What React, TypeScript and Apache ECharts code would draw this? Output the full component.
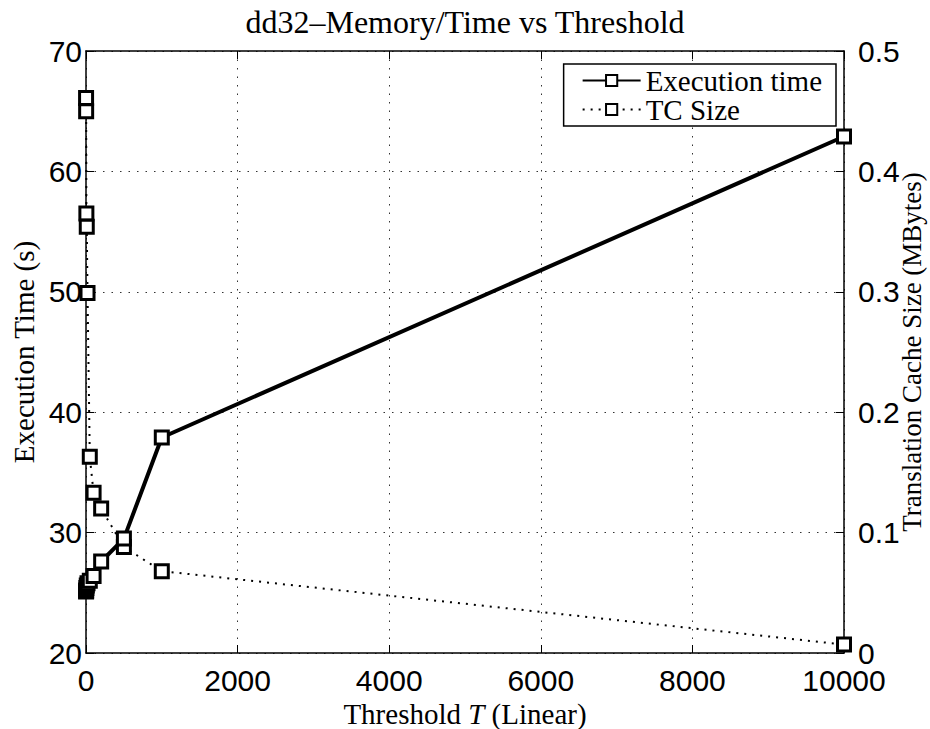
import React, { useEffect, useRef } from "react";
import * as echarts from "echarts";

const thresholds = [1, 2, 5, 10, 20, 50, 100, 200, 500, 1000, 10000];
const execTime = [25.1, 25.2, 25.4, 25.6, 25.8, 26.0, 26.4, 27.6, 29.5, 37.9, 62.9];
const tcSize = [0.461, 0.45, 0.365, 0.354, 0.299, 0.163, 0.133, 0.12, 0.088, 0.068, 0.007];

const SERIF = "'Liberation Serif', 'DejaVu Serif', serif";
const SANS = "'Liberation Sans', Arial, sans-serif";

export default function App() {
  const ref = useRef<HTMLDivElement>(null);
  useEffect(() => {
    document.body.style.margin = "0";
    const chart = echarts.init(ref.current!, null, { renderer: "svg" });
    const marker = {
      symbol: "rect",
      symbolSize: 13,
      itemStyle: { color: "#fff", borderColor: "#000", borderWidth: 3 },
    };
    const gridLine = { show: true, lineStyle: { color: "#333", type: [1.5, 7], width: 1 } };
    const axisLabel = { color: "#000", fontFamily: SANS, fontSize: 30 };
    chart.setOption({
      animation: false,
      backgroundColor: "#fff",
      title: {
        text: "dd32–Memory/Time vs Threshold",
        left: "center",
        top: 1,
        textStyle: { fontFamily: SERIF, fontSize: 32, fontWeight: "normal", color: "#000" },
      },
      legend: {
        orient: "vertical",
        right: 94,
        top: 64,
        padding: [2, 14, 2, 18],
        itemGap: 0,
        itemWidth: 58,
        itemHeight: 14,
        borderColor: "#000",
        borderWidth: 1.5,
        backgroundColor: "#fff",
        textStyle: { fontFamily: SERIF, fontSize: 29, color: "#000" },
        data: ["Execution time", "TC Size"],
      },
      grid: { left: 86, right: 86, top: 51, bottom: 76, outerBoundsMode: "none" },
      xAxis: [
        {
          type: "value",
          min: 0,
          max: 10000,
          interval: 2000,
          axisLine: { show: true, onZero: false, lineStyle: { color: "#000", width: 1.5 } },
          axisTick: { inside: true, length: 8, lineStyle: { color: "#000" } },
          axisLabel: { ...axisLabel, margin: 12, formatter: (v: number) => String(v) },
          splitLine: gridLine,
          name: "{a|Threshold }{i|T}{a| (Linear)}",
          nameLocation: "middle",
          nameGap: 46,
          nameMoveOverlap: false,
          nameTextStyle: {
            rich: {
              a: { fontFamily: SERIF, fontSize: 29, color: "#000" },
              i: { fontFamily: SERIF, fontSize: 29, fontStyle: "italic", color: "#000" },
            },
          },
        },
        {
          type: "value",
          position: "top",
          min: 0,
          max: 10000,
          interval: 2000,
          axisLine: { show: true, onZero: false, lineStyle: { color: "#000", width: 1.5 } },
          axisTick: { inside: true, length: 8, lineStyle: { color: "#000" } },
          axisLabel: { show: false },
          splitLine: { show: false },
        },
      ],
      yAxis: [
        {
          type: "value",
          min: 20,
          max: 70,
          interval: 10,
          axisLine: { show: true, onZero: false, lineStyle: { color: "#000", width: 1.5 } },
          axisTick: { show: true, inside: true, length: 8, lineStyle: { color: "#000" } },
          axisLabel: { ...axisLabel, margin: 4 },
          splitLine: gridLine,
          name: "Execution Time (s)",
          nameLocation: "middle",
          nameGap: 48,
          nameMoveOverlap: false,
          nameTextStyle: { fontFamily: SERIF, fontSize: 29, color: "#000" },
        },
        {
          type: "value",
          min: 0,
          max: 0.5,
          interval: 0.1,
          axisLine: { show: true, onZero: false, lineStyle: { color: "#000", width: 1.5 } },
          axisTick: { show: true, inside: true, length: 8, lineStyle: { color: "#000" } },
          axisLabel: { ...axisLabel, margin: 14 },
          splitLine: { show: false },
          name: "Translation Cache Size (MBytes)",
          nameLocation: "middle",
          nameGap: 54,
          nameMoveOverlap: false,
          nameTextStyle: { fontFamily: SERIF, fontSize: 27, color: "#000" },
        },
      ],
      series: [
        {
          name: "Execution time",
          type: "line",
          yAxisIndex: 0,
          data: thresholds.map((t, i) => [t, execTime[i]]),
          lineStyle: { color: "#000", width: 4 },
          ...marker,
          z: 3,
        },
        {
          name: "TC Size",
          type: "line",
          yAxisIndex: 1,
          data: thresholds.map((t, i) => [t, tcSize[i]]),
          lineStyle: { color: "#000", width: 2, type: [2, 6] },
          ...marker,
          z: 2,
        },
      ],
    });
    return () => chart.dispose();
  }, []);
  return <div ref={ref} style={{ width: 930, height: 729 }} />;
}
